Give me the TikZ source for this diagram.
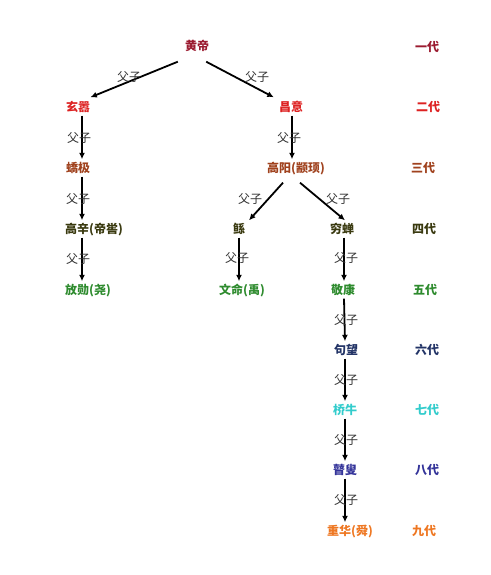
\documentclass[tikz,border=0pt]{standalone}
\usepackage{fontspec}
\setmainfont{Noto Sans CJK SC}
\usetikzlibrary{arrows.meta}
\definecolor{gA}{HTML}{9B1B30}
\definecolor{gB}{HTML}{DD2222}
\definecolor{gC}{HTML}{A0421E}
\definecolor{gD}{HTML}{3A3A10}
\definecolor{gE}{HTML}{2E8B2E}
\definecolor{gF}{HTML}{223366}
\definecolor{gG}{HTML}{33CCCC}
\definecolor{gH}{HTML}{333399}
\definecolor{gI}{HTML}{EE7722}
\definecolor{lbl}{HTML}{333333}
\tikzset{
  person/.style={font=\fontsize{12pt}{14pt}\selectfont\bfseries, inner xsep=2pt, inner ysep=2.5pt, text height=10pt, text depth=2pt},
  gen/.style={font=\fontsize{12pt}{14pt}\selectfont\bfseries, inner sep=1pt},
  rel/.style={font=\fontsize{12pt}{14pt}\selectfont, text=lbl, inner sep=0pt},
  arr/.style={line width=1.8pt, -{Latex[length=6.5pt,width=6pt]}},
}
\begin{document}
\begin{tikzpicture}[x=1pt,y=-1pt]
\useasboundingbox (0,0) rectangle (490,575);
% people
\node[person,text=gA] (hd) at (197,47) {黄帝};
\node[person,text=gB,anchor=west] (xx) at (64,107) {玄嚣};
\node[person,text=gB] (cy) at (291,107) {昌意};
\node[person,text=gC,anchor=west] (jj) at (64,168) {蟜极};
\node[person,text=gC] (gy) at (296,168) {高阳(颛顼)};
\node[person,text=gD,anchor=west] (gx) at (63,229) {高辛(帝喾)};
\node[person,text=gD] (gun) at (239,229) {鲧};
\node[person,text=gD] (qc) at (342,229) {穷蝉};
\node[person,text=gE,anchor=west] (fx) at (63,290) {放勋(尧)};
\node[person,text=gE] (wm) at (242,290) {文命(禹)};
\node[person,text=gE] (jk) at (343,290) {敬康};
\node[person,text=gF] (jw) at (346,350) {句望};
\node[person,text=gG] (qn) at (345,410) {桥牛};
\node[person,text=gH] (gs) at (345,470) {瞽叟};
\node[person,text=gI] (zh) at (350,531) {重华(舜)};
% generations
\node[gen,text=gA] (g1) at (427,47) {一代};
\node[gen,text=gB] (g2) at (428,107) {二代};
\node[gen,text=gC] (g3) at (423,168) {三代};
\node[gen,text=gD] (g4) at (424,229) {四代};
\node[gen,text=gE] (g5) at (425,290) {五代};
\node[gen,text=gF] (g6) at (427,350) {六代};
\node[gen,text=gG] (g7) at (427,410) {七代};
\node[gen,text=gH] (g8) at (427,470) {八代};
\node[gen,text=gI] (g9) at (424,531) {九代};
% connectors
\draw[arr] ([shift={(-5,6)}]hd.south west) -- ([shift={(-2,-1)}]xx.north east);
\draw[arr] ([shift={(-5,6)}]hd.south east) -- ([shift={(-3,-1)}]cy.north west);
\draw[arr] ([xshift=18pt]xx.south west) -- ([xshift=18pt]jj.north west);
\draw[arr] ([xshift=18pt]jj.south west) -- ([xshift=19pt]gx.north west);
\draw[arr] ([xshift=19pt]gx.south west) -- ([xshift=19pt]fx.north west);
\draw[arr] ([xshift=1pt]cy.south) -- ([xshift=-4pt]gy.north);
\draw[arr] ([shift={(-13,6)}]gy.south) -- ([shift={(10,0)}]gun.north);
\draw[arr] ([shift={(4,6)}]gy.south) -- ([shift={(3,0)}]qc.north);
\draw[arr] (gun.south) -- ([xshift=-3pt]wm.north);
\draw[arr] ([xshift=2pt]qc.south) -- ([xshift=1pt]jk.north);
\draw[arr] ([xshift=1pt]jk.south) -- ([xshift=-1pt]jw.north);
\draw[arr] ([xshift=-1pt]jw.south) -- (qn.north);
\draw[arr] (qn.south) -- (gs.north);
\draw[arr] (gs.south) -- ([xshift=-5pt]zh.north);
% relation labels
\node[rel] (r1) at (129,77) {父子};
\node[rel] (r2) at (257,77) {父子};
\node[rel] (r3) at (79,138) {父子};
\node[rel] (r4) at (289,138) {父子};
\node[rel] (r5) at (78,199) {父子};
\node[rel] (r6) at (78,259) {父子};
\node[rel] (r7) at (250,199) {父子};
\node[rel] (r8) at (338,199) {父子};
\node[rel] (r9) at (237,258) {父子};
\node[rel] (r10) at (346,258) {父子};
\node[rel] (r11) at (346,320) {父子};
\node[rel] (r12) at (346,380) {父子};
\node[rel] (r13) at (346,440) {父子};
\node[rel] (r14) at (346,500) {父子};
\end{tikzpicture}
\end{document}
